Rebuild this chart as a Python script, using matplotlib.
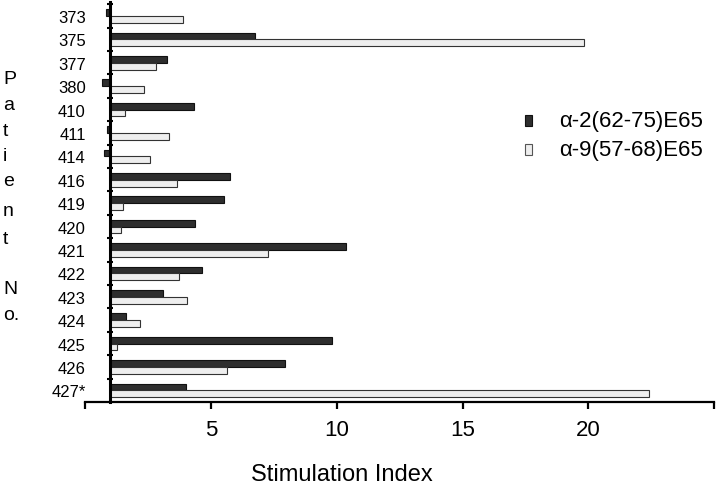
import matplotlib
matplotlib.use("Agg")
import matplotlib.pyplot as plt
from matplotlib.patches import Rectangle
import numpy as np

patients = ["373", "375", "377", "380", "410", "411", "414", "416", "419",
            "420", "421", "422", "423", "424", "425", "426", "427*"]
alpha2 = [0.85, 6.75, 3.27, 0.66, 4.35, 0.86, 0.76, 5.77, 5.52,
          4.39, 10.36, 4.64, 3.10, 1.65, 9.80, 7.93, 4.02]
alpha9 = [3.91, 19.83, 2.82, 2.34, 1.61, 3.35, 2.58, 3.64, 1.53,
          1.44, 7.26, 3.75, 4.04, 2.17, 1.28, 5.66, 22.40]
xticks = [5, 10, 15, 20]
series_names = ["\u03b1-2(62-75)E65", "\u03b1-9(57-68)E65"]

plt.rcParams['font.family'] = ['Liberation Sans', 'DejaVu Sans']

W, H = 720, 485
fig = plt.figure(figsize=(7.2, 4.85), dpi=100)
ax = fig.add_axes([0.118, 0.169, 0.874, 0.825])

baseline = 1.0
y = np.arange(len(patients))
h = 0.29
dark = "#2e2e2e"
light = "#eeeeee"
ax.barh(y - h / 2, np.array(alpha2) - baseline, left=baseline, height=h,
        color=dark, edgecolor="#111111", linewidth=0.8)
ax.barh(y + h / 2, np.array(alpha9) - baseline, left=baseline, height=h,
        color=light, edgecolor="#333333", linewidth=0.8)

ax.set_xlim(0, 25)
ax.set_ylim(16.5, -0.6)

ax.spines['top'].set_visible(False)
ax.spines['right'].set_visible(False)
ax.spines['left'].set_position(('data', 1))
ax.spines['left'].set_linewidth(2.2)
ax.spines['bottom'].set_linewidth(1.6)

ax.set_yticks(y)
ax.set_yticklabels(patients, fontsize=12)
ax.tick_params(axis='y', which='major', length=0, pad=17.5)
ax.set_yticks(np.arange(-0.5, 16.0, 1.0), minor=True)
ax.tick_params(axis='y', which='minor', length=4, width=1.5, direction='inout')

ax.set_xticks([0] + xticks + [25])
ax.set_xticklabels([""] + [str(t) for t in xticks] + [""], fontsize=16)
ax.tick_params(axis='x', length=5, width=1.6, direction='out', pad=7)

fig.text(342 / W, 1 - 481 / H, "Stimulation Index", fontsize=17,
         ha='center', va='baseline')

letters = ["P", "a", "t", "i", "e", "n", "t", "N", "o."]
letter_y = [79, 106, 132, 157, 182, 212, 240, 290, 316]
for ch, ly in zip(letters, letter_y):
    fig.text(3 / W, 1 - ly / H, ch, fontsize=14, ha='left', va='center')

# legend
leg_colors = [(dark, "#111111"), (light, "#555555")]
leg_y = [121.5, 150.5]
for name, (fc, ec), ly in zip(series_names, leg_colors, leg_y):
    fig.add_artist(Rectangle((525 / W, 1 - (ly + 5) / H), 7 / W, 10 / H,
                             transform=fig.transFigure, facecolor=fc,
                             edgecolor=ec, linewidth=0.8))
    fig.text(559 / W, 1 - ly / H, name, fontsize=16, ha='left', va='center')

fig.savefig("out.png", dpi=100)
